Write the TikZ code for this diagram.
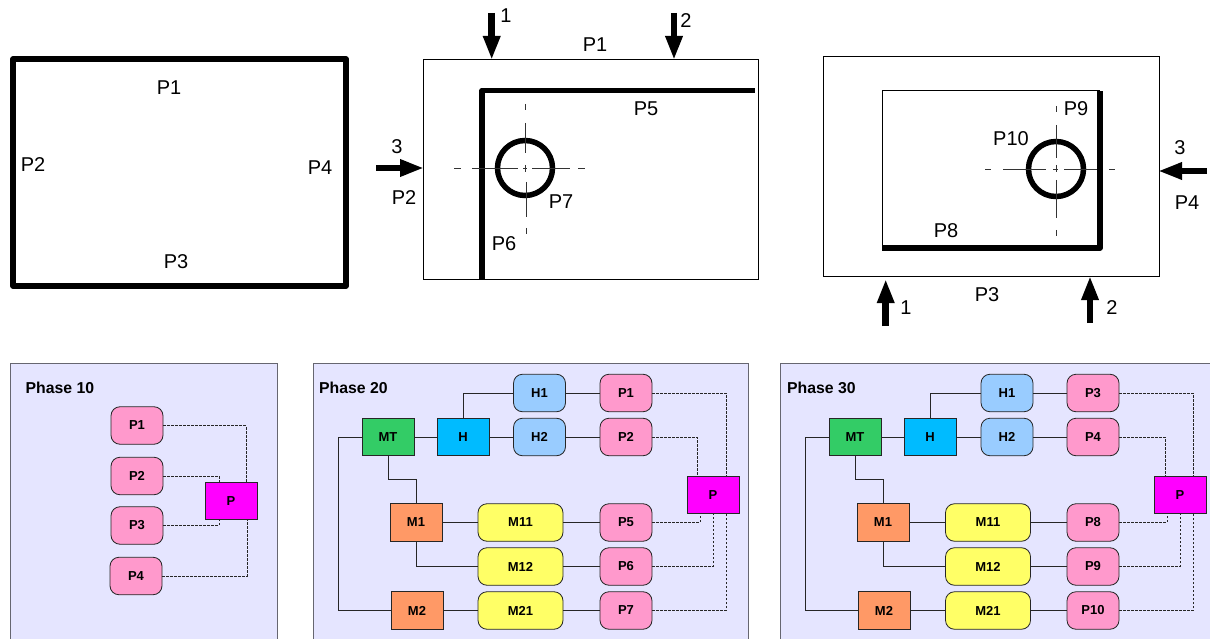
\documentclass[tikz,border=0pt]{standalone}
\usepackage{fontspec}
\setmainfont{Liberation Sans}
\usetikzlibrary{arrows.meta}
\definecolor{panelc}{HTML}{E5E5FF}
\definecolor{panelb}{HTML}{666670}
\definecolor{pinkc}{HTML}{FF99CC}
\definecolor{ltblue}{HTML}{99CCFF}
\definecolor{hblue}{HTML}{00BBFF}
\definecolor{mtgreen}{HTML}{33CC66}
\definecolor{orangec}{HTML}{FF9966}
\definecolor{yellowc}{HTML}{FFFF66}
\definecolor{magc}{HTML}{FF00FF}
\tikzset{
  box/.style={draw=black!85,line width=0.8pt,inner sep=0pt,minimum height=37.5pt,font=\fontsize{13}{15}\selectfont\bfseries},
  sq/.style={box,minimum width=52pt},
  rd/.style={box,rounded corners=9pt,minimum width=52pt},
  wide/.style={box,rounded corners=9pt,minimum width=85pt},
  ph/.style={rd,fill=pinkc},
  hh/.style={rd,fill=ltblue},
  yy/.style={wide,fill=yellowc},
  oo/.style={sq,fill=orangec},
  pp/.style={sq,fill=magc},
  conn/.style={line width=0.9pt,draw=black!85},
  dconn/.style={line width=0.9pt,draw=black!85,dash pattern=on 2.6pt off 1.4pt},
  panel/.style={fill=panelc,draw=none},
  panelline/.style={draw=panelb,line width=1pt},
  title/.style={anchor=west,inner sep=0pt,font=\fontsize{15.8}{18}\selectfont\bfseries},
  lab/.style={inner sep=0pt,font=\fontsize{20}{22}\selectfont},
  thickl/.style={line width=5.5pt},
  thinl/.style={line width=0.9pt,draw=black},
  cl/.style={line width=0.8pt,draw=black!80},
  bigarrow/.style={line width=6.5pt,-{Triangle[length=24pt,width=16pt]}},
}
\begin{document}
\begin{tikzpicture}[x=1pt,y=-1pt]
\useasboundingbox (0,0) rectangle (1210,639);
% ---------- top left
\draw[thickl,line join=round] (13,59) rectangle (346,286);
\node[lab] (a1) at (169,88) {P1};
\node[lab] (a2) at (33,165) {P2};
\node[lab] (a4) at (320,168) {P4};
\node[lab] (a3) at (176,262) {P3};
% ---------- top middle
\draw[thinl] (423,59) rectangle (758,279);
\draw[thickl,line join=round] (482,279) -- (482,90.5) -- (755,90.5);
\draw[thickl] (525,168) circle (27.5);
\draw[cl] (454,168)--(461,168) (472,168)--(518,168) (523,168)--(527,168) (532,168)--(570,168) (578,168)--(585,168);
\draw[cl] (525,104)--(525,110) (525,123)--(525,153) (525,165)--(525,172) (526,182)--(526,217) (526,228)--(526,234);
\coordinate (bs1) at (491.7,13); \coordinate (bt1) at (491.7,60);
\coordinate (bs2) at (674,13); \coordinate (bt2) at (674,60);
\coordinate (bs3) at (376,168); \coordinate (bt3) at (424,168);
\draw[bigarrow] (bs1) -- (bt1);
\draw[bigarrow] (bs2) -- (bt2);
\draw[bigarrow] (bs3) -- (bt3);
\node[lab] (bn1) at (506,16) {1};
\node[lab] (bn2) at (686,21) {2};
\node[lab] (bn3) at (397,147) {3};
\node[lab] (b1) at (595,45) {P1};
\node[lab] (b5) at (646,109) {P5};
\node[lab] (b2) at (404,198) {P2};
\node[lab] (b7) at (561,202) {P7};
\node[lab] (b6) at (504,244) {P6};
% ---------- top right
\draw[thinl] (823,56) rectangle (1159,276);
\draw[thinl] (882,248) -- (882,90) -- (1100,90);
\draw[thickl,line join=round] (882,248) -- (1100,248) -- (1100,91);
\draw[thickl] (1056,169) circle (27.5);
\draw[cl] (985,169)--(991,169) (1003,169)--(1046,169) (1053,169)--(1058,169) (1064,169)--(1097,169) (1109,169)--(1115,169);
\draw[cl] (1056,106)--(1056,112) (1056,125)--(1056,158) (1056,165)--(1056,172) (1056,180)--(1056,218) (1056,230)--(1056,236);
\coordinate (cs1) at (885.7,326); \coordinate (ct1) at (885.7,279);
\coordinate (cs2) at (1090,323); \coordinate (ct2) at (1090,276);
\coordinate (cs3) at (1207,171); \coordinate (ct3) at (1158,171);
\draw[bigarrow] (cs1) -- (ct1);
\draw[bigarrow] (cs2) -- (ct2);
\draw[bigarrow] (cs3) -- (ct3);
\node[lab] (cn1) at (906,308) {1};
\node[lab] (cn2) at (1112,308) {2};
\node[lab] (cn3) at (1180,148) {3};
\node[lab] (c4) at (1187,203) {P4};
\node[lab] (c3) at (987,295) {P3};
\node[lab] (c8) at (946,231) {P8};
\node[lab] (c9) at (1076,109) {P9};
\node[lab] (c10) at (1011,139) {P10};
% ---------- Phase 10
\fill[panel] (10.5,363) rectangle (277,639);
\draw[panelline] (10.5,639) -- (10.5,363) -- (277,363) -- (277,639);
\node[title] (t10) at (25.5,387.5) {Phase 10};
\node[ph] (d1) at (137,425.5) {P1};
\node[ph] (d2) at (137,476) {P2};
\node[ph] (d3) at (137,525.5) {P3};
\node[ph] (d4) at (136,576) {P4};
\node[pp] (dp) at (231,501) {P};
\draw[dconn] (d1.east) -| ([xshift=15pt]dp.north);
\draw[dconn] (d2.east) -| ([xshift=-12pt]dp.north);
\draw[dconn] (d3.east) -| ([xshift=-12pt]dp.south);
\draw[dconn] (d4.east) -| ([xshift=16pt]dp.south);
% ---------- Phase 20
\fill[panel] (313,363) rectangle (748,639);
\draw[panelline] (313,639) -- (313,363) -- (748,363) -- (748,639);
\node[title] (t20) at (319,387.5) {Phase 20};
\node[sq,fill=mtgreen] (emt) at (388,437) {MT};
\node[sq,fill=hblue] (eh) at (463,437) {H};
\node[hh] (eh1) at (539.5,393) {H1};
\node[hh] (eh2) at (539.5,437) {H2};
\node[ph] (ep1) at (626,393) {P1};
\node[ph] (ep2) at (626,437) {P2};
\node[oo] (em1) at (416,522.5) {M1};
\node[yy] (em11) at (520.5,522.5) {M11};
\node[ph] (ep5) at (626,522.5) {P5};
\node[yy] (em12) at (520.5,566.5) {M12};
\node[ph] (ep6) at (626,566.5) {P6};
\node[oo] (em2) at (417,610.5) {M2};
\node[yy] (em21) at (520.5,610.5) {M21};
\node[ph] (ep7) at (626,610.5) {P7};
\node[pp] (ep) at (713,495) {P};
\draw[conn] (eh.north) |- (eh1.west);
\draw[conn] (eh1) -- (ep1);
\draw[conn] (emt) -- (eh);
\draw[conn] (eh) -- (eh2);
\draw[conn] (eh2) -- (ep2);
\draw[conn] (emt.west) -- ++(-23,0) |- (em2.west);
\draw[conn] (emt.south) -- ++(0,23) -| (em1.north);
\draw[conn] (em1) -- (em11);
\draw[conn] (em11) -- (ep5);
\draw[conn] (em1.south) |- (em12.west);
\draw[conn] (em12) -- (ep6);
\draw[conn] (em2) -- (em21);
\draw[conn] (em21) -- (ep7);
\draw[dconn] (ep1.east) -| ([xshift=13pt]ep.north);
\draw[dconn] (ep2.east) -| ([xshift=-16pt]ep.north);
\draw[dconn] (ep5.east) -| ([xshift=-13pt]ep.south);
\draw[dconn] (ep6.east) -| (ep.south);
\draw[dconn] (ep7.east) -| ([xshift=13pt]ep.south);
% ---------- Phase 30
\fill[panel] (780.5,363) rectangle (1210,639);
\draw[panelline] (780.5,639) -- (780.5,363) -- (1210,363);
\node[title] (t30) at (787,387.5) {Phase 30};
\node[sq,fill=mtgreen] (fmt) at (855,437) {MT};
\node[sq,fill=hblue] (fh) at (930,437) {H};
\node[hh] (fh1) at (1007,393) {H1};
\node[hh] (fh2) at (1007,437) {H2};
\node[ph] (fp3) at (1093,393) {P3};
\node[ph] (fp4) at (1093,437) {P4};
\node[oo] (fm1) at (883,522.5) {M1};
\node[yy] (fm11) at (988,522.5) {M11};
\node[ph] (fp8) at (1093,522.5) {P8};
\node[yy] (fm12) at (988,566.5) {M12};
\node[ph] (fp9) at (1093,566.5) {P9};
\node[oo] (fm2) at (884,610.5) {M2};
\node[yy] (fm21) at (988,610.5) {M21};
\node[ph] (fp10) at (1093,610.5) {P10};
\node[pp] (fp) at (1180,495) {P};
\draw[conn] (fh.north) |- (fh1.west);
\draw[conn] (fh1) -- (fp3);
\draw[conn] (fmt) -- (fh);
\draw[conn] (fh) -- (fh2);
\draw[conn] (fh2) -- (fp4);
\draw[conn] (fmt.west) -- ++(-23,0) |- (fm2.west);
\draw[conn] (fmt.south) -- ++(0,23) -| (fm1.north);
\draw[conn] (fm1) -- (fm11);
\draw[conn] (fm11) -- (fp8);
\draw[conn] (fm1.south) |- (fm12.west);
\draw[conn] (fm12) -- (fp9);
\draw[conn] (fm2) -- (fm21);
\draw[conn] (fm21) -- (fp10);
\draw[dconn] (fp3.east) -| ([xshift=13pt]fp.north);
\draw[dconn] (fp4.east) -| ([xshift=-15pt]fp.north);
\draw[dconn] (fp8.east) -| ([xshift=-13pt]fp.south);
\draw[dconn] (fp9.east) -| (fp.south);
\draw[dconn] (fp10.east) -| ([xshift=13pt]fp.south);
\end{tikzpicture}
\end{document}
